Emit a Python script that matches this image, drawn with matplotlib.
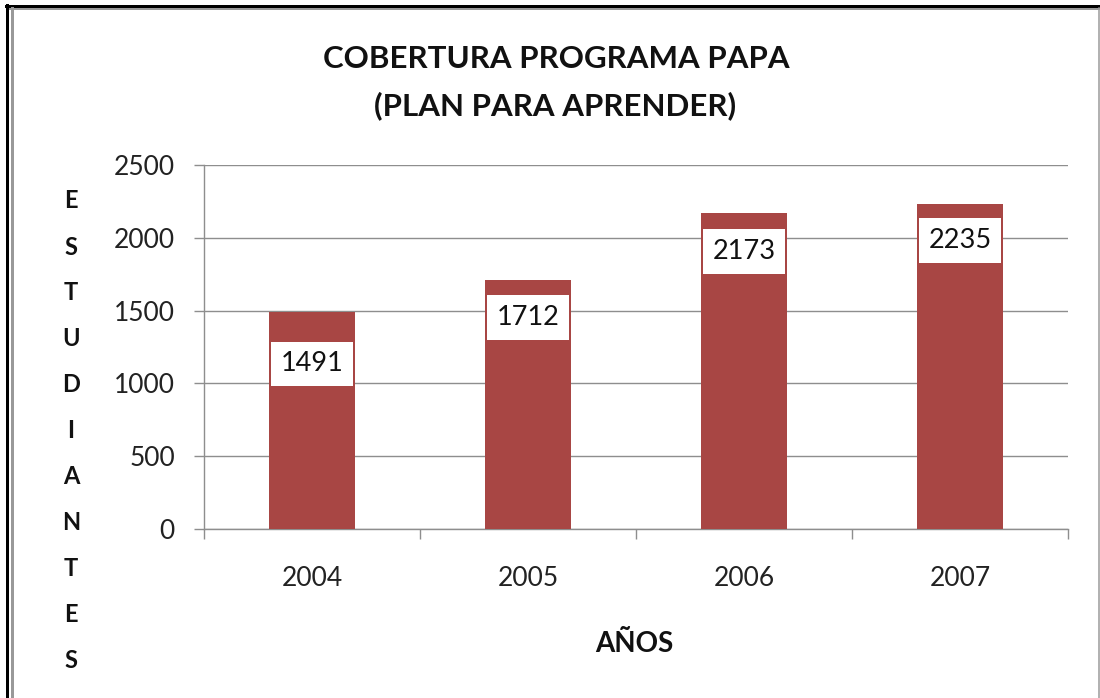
import matplotlib
matplotlib.use("Agg")
import matplotlib.pyplot as plt
from matplotlib.lines import Line2D
import numpy as np

# ---- data ----
years = ["2004", "2005", "2006", "2007"]
students = [1491, 1712, 2173, 2235]
y_ticks = [0, 500, 1000, 1500, 2000, 2500]
title_line1 = "COBERTURA PROGRAMA PAPA"
title_line2 = "(PLAN PARA APRENDER)"
y_label = "ESTUDIANTES"
x_label = "AÑOS"

# ---- layout / style ----
W, H, DPI = 1100, 698, 100
FONT = ["Lato", "DejaVu Sans"]
BAR_COLOR = "#A84644"
GRID_COLOR = "#8E8E8E"
label_offsets_px = [-52, -38, -39, -37]

plt.rcParams["font.family"] = FONT

fig = plt.figure(figsize=(W / DPI, H / DPI), dpi=DPI)
fig.patch.set_facecolor("white")

def fx(px):
    return px / W

def fy(py):
    return 1 - py / H

ax = fig.add_axes([fx(204), fy(529), fx(1068) - fx(204), fy(165) - fy(529)])

x = np.arange(len(years))
ax.bar(x, students, width=0.4, color=BAR_COLOR, zorder=3)

ax.set_xlim(-0.5, len(years) - 0.5)
ax.set_ylim(0, 2500)
ax.set_yticks(y_ticks)
ax.set_yticklabels([str(v) for v in y_ticks], fontsize=19, color="#222222")
ax.yaxis.grid(True, color=GRID_COLOR, linewidth=1.0, zorder=0)
ax.set_axisbelow(True)

# category boundary ticks (major, unlabeled) and centered labels (minor)
ax.set_xticks(np.arange(-0.5, len(years), 1.0))
ax.set_xticklabels([])
ax.set_xticks(x, minor=True)
ax.set_xticklabels(years, minor=True, fontsize=19, color="#222222")
ax.tick_params(axis="x", which="major", length=7, width=1.0, color=GRID_COLOR, direction="out")
ax.tick_params(axis="x", which="minor", length=0, pad=27)
ax.tick_params(axis="y", length=7, width=1.0, color=GRID_COLOR, direction="out", pad=14)

for side in ["top", "right"]:
    ax.spines[side].set_visible(False)
for side in ["left", "bottom"]:
    ax.spines[side].set_color(GRID_COLOR)
    ax.spines[side].set_linewidth(1.0)

# data labels
for xi, v, off in zip(x, students, label_offsets_px):
    ax.annotate(str(v), xy=(xi, v), xytext=(0, off * 72 / DPI), textcoords="offset points",
                ha="center", va="center", fontsize=19.5, color="#111111", zorder=5,
                bbox=dict(boxstyle="square,pad=0.36", facecolor="white", edgecolor="none"))

# titles
fig.text(fx(556), fy(68), title_line1, ha="center", va="baseline", fontsize=22.5,
         fontweight="bold", color="#111111")
fig.text(fx(555), fy(115), title_line2, ha="center", va="baseline", fontsize=22.5,
         fontweight="bold", color="#111111")

# vertical stacked y label
for i, ch in enumerate(y_label):
    fig.text(fx(71), fy(201 + i * 46), ch, ha="center", va="center", fontsize=17,
             fontweight="bold", color="#111111")

# x label
fig.text(fx(634), fy(652), x_label, ha="center", va="baseline", fontsize=20,
         fontweight="bold", color="#111111")

# frame
lw_px = 72 / DPI
fig.add_artist(Line2D([fx(7), fx(7)], [fy(5), 0], transform=fig.transFigure, color="black", linewidth=3 * lw_px))
fig.add_artist(Line2D([fx(6), 1], [fy(5.5), fy(5.5)], transform=fig.transFigure, color="black", linewidth=3 * lw_px))
fig.add_artist(Line2D([fx(11.5), fx(11.5)], [fy(8), 0], transform=fig.transFigure, color="#999999", linewidth=3 * lw_px))
fig.add_artist(Line2D([fx(10), fx(1099)], [fy(8.5), fy(8.5)], transform=fig.transFigure, color="#999999", linewidth=2 * lw_px))
fig.add_artist(Line2D([fx(1098.5), fx(1098.5)], [fy(8), 0], transform=fig.transFigure, color="#999999", linewidth=1.5 * lw_px))

fig.savefig("out.png", dpi=DPI)
